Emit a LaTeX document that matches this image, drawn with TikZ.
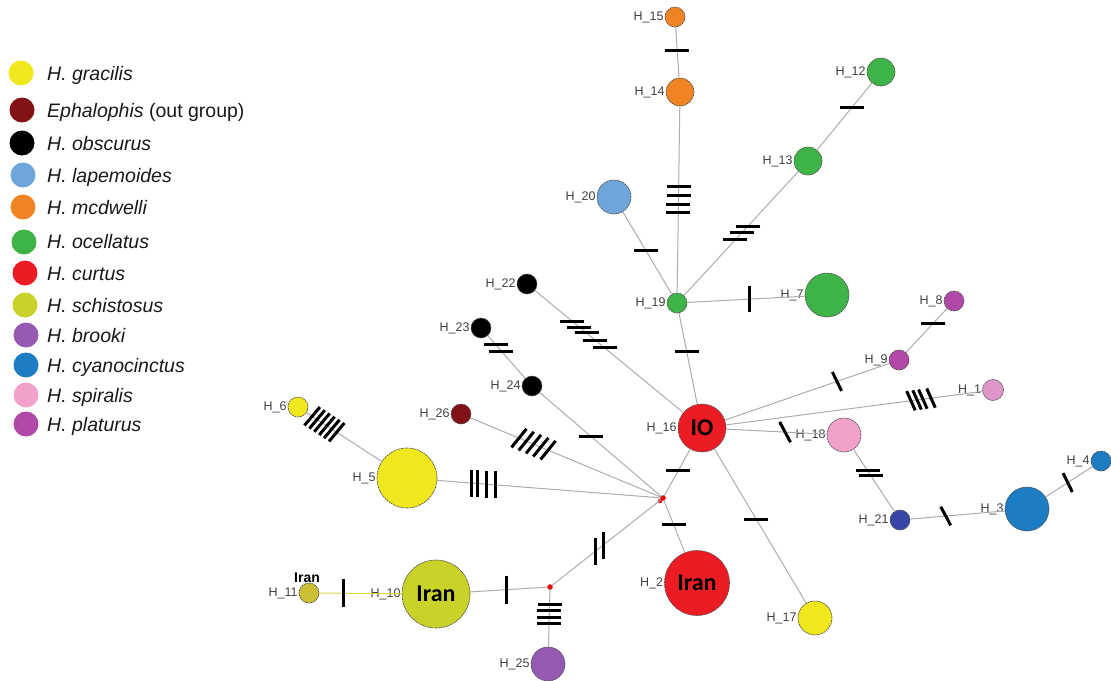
\documentclass[tikz,border=0pt]{standalone}
\usepackage{fontspec}
\setmainfont{Liberation Sans}
\newfontfamily\calib{Carlito}
\usetikzlibrary{calc}
\definecolor{cgrac}{RGB}{240,232,28}
\definecolor{cepha}{RGB}{130,18,22}
\definecolor{cobsc}{RGB}{0,0,0}
\definecolor{clape}{RGB}{110,165,218}
\definecolor{cmcdw}{RGB}{240,132,36}
\definecolor{cocel}{RGB}{62,180,72}
\definecolor{ccurt}{RGB}{236,28,36}
\definecolor{cschi}{RGB}{200,210,40}
\definecolor{colive}{RGB}{205,190,55}
\definecolor{cbroo}{RGB}{150,90,178}
\definecolor{ccyan}{RGB}{28,125,196}
\definecolor{cspir}{RGB}{242,162,202}
\definecolor{cspir2}{RGB}{222,150,200}
\definecolor{cplat}{RGB}{176,72,168}
\definecolor{cdblue}{RGB}{56,70,168}
\definecolor{cedge}{RGB}{172,172,172}
\definecolor{cyedge}{RGB}{215,215,70}
\tikzset{
  hap/.style={circle, draw=black!70, line width=0.6pt, dash pattern=on 2pt off 0.7pt, inner sep=0pt, minimum size=#1},
  hlab/.style={font=\fontsize{12.5}{14}\selectfont, text=black!75, inner sep=1pt},
  big/.style={font=\calib\bfseries\fontsize{24}{24}\selectfont},
  edge/.style={draw=cedge, line width=1pt},
  tick/.style={draw=black, line width=3pt},
  jn/.style={circle, fill=red, draw=red!70!black, line width=0.3pt, inner sep=0pt, minimum size=5pt},
  lgdot/.style={circle, inner sep=0pt, minimum size=25pt},
  lgtxt/.style={anchor=base west, inner sep=0pt, font=\fontsize{19.5}{22}\selectfont, text=black!90}
}
\newcommand\tk[5][12pt]{\draw[tick] ($(#2.center)!#4!(#3.center)+(#5:#1)$) -- ($(#2.center)!#4!(#3.center)-(#5:#1)$);}
\begin{document}
\begin{tikzpicture}[x=1pt,y=-1pt]
\useasboundingbox (0,0) rectangle (1111,680);
% legend
\node[lgdot, fill=cgrac] (l1) at (21,73) {};
\node[lgtxt] (t1) at (47,80) {\itshape H. gracilis};
\node[lgdot, fill=cepha] (l2) at (22,110) {};
\node[lgtxt] (t2) at (47,117) {\itshape Ephalophis\/\upshape\ (out group)};
\node[lgdot, fill=cobsc] (l3) at (22,143) {};
\node[lgtxt] (t3) at (47,150) {\itshape H. obscurus};
\node[lgdot, fill=clape] (l4) at (23,175) {};
\node[lgtxt] (t4) at (47,182) {\itshape H. lapemoides};
\node[lgdot, fill=cmcdw] (l5) at (23,207) {};
\node[lgtxt] (t5) at (47,214) {\itshape H. mcdwelli};
\node[lgdot, fill=cocel] (l6) at (24,242) {};
\node[lgtxt] (t6) at (47,248) {\itshape H. ocellatus};
\node[lgdot, fill=ccurt] (l7) at (25,273) {};
\node[lgtxt] (t7) at (47,280) {\itshape H. curtus};
\node[lgdot, fill=cschi] (l8) at (25,305) {};
\node[lgtxt] (t8) at (47,312) {\itshape H. schistosus};
\node[lgdot, fill=cbroo] (l9) at (26,335) {};
\node[lgtxt] (t9) at (47,342) {\itshape H. brooki};
\node[lgdot, fill=ccyan] (l10) at (26,365) {};
\node[lgtxt] (t10) at (47,372) {\itshape H. cyanocinctus};
\node[lgdot, fill=cspir] (l11) at (26,395) {};
\node[lgtxt] (t11) at (47,402) {\itshape H. spiralis};
\node[lgdot, fill=cplat] (l12) at (26,424) {};
\node[lgtxt] (t12) at (47,431) {\itshape H. platurus};
% haplotypes
\node[hap=20, fill=cmcdw, label={[hlab]left:H\_15}] (H15) at (675,17) {};
\node[hap=28, fill=cmcdw, label={[hlab]left:H\_14}] (H14) at (680,92) {};
\node[hap=28, fill=cocel, label={[hlab]left:H\_12}] (H12) at (881,72) {};
\node[hap=28, fill=cocel, label={[hlab]left:H\_13}] (H13) at (808,161) {};
\node[hap=34, fill=clape, label={[hlab]left:H\_20}] (H20) at (614,197) {};
\node[hap=20, fill=cocel, label={[hlab]left:H\_19}] (H19) at (677,303) {};
\node[hap=44, fill=cocel, label={[hlab]left:H\_7}] (H7) at (827,295) {};
\node[hap=20, fill=cobsc, label={[hlab]left:H\_22}] (H22) at (527,284) {};
\node[hap=20, fill=cobsc, label={[hlab]left:H\_23}] (H23) at (481,328) {};
\node[hap=20, fill=cobsc, label={[hlab]left:H\_24}] (H24) at (532,386) {};
\node[hap=20, fill=cepha, label={[hlab]left:H\_26}] (H26) at (461,414) {};
\node[hap=48, fill=ccurt, big, label={[hlab]left:H\_16}] (H16) at (702,428) {IO};
\node[hap=60, fill=cgrac, label={[hlab]left:H\_5}] (H5) at (407,478) {};
\node[hap=20, fill=cgrac, label={[hlab]left:H\_6}] (H6) at (298,407) {};
\node[hap=20, fill=colive, label={[hlab]left:H\_11}] (H11) at (309,593) {};
\node[hap=68, fill=cschi, big, label={[hlab]left:H\_10}] (H10) at (436,594) {Iran};
\node[hap=34, fill=cbroo, label={[hlab]left:H\_25}] (H25) at (548,664) {};
\node[hap=20, fill=cplat, label={[hlab]left:H\_8}] (H8) at (954,301) {};
\node[hap=20, fill=cplat, label={[hlab]left:H\_9}] (H9) at (899,360) {};
\node[hap=21, fill=cspir2, label={[hlab]left:H\_1}] (H1) at (993,390) {};
\node[hap=34, fill=cspir, label={[hlab]left:H\_18}] (H18) at (844,435) {};
\node[hap=20, fill=ccyan, label={[hlab]left:H\_4}] (H4) at (1101,461) {};
\node[hap=44, fill=ccyan, label={[hlab]left:H\_3}] (H3) at (1027,509) {};
\node[hap=20, fill=cdblue, label={[hlab]left:H\_21}] (H21) at (900,520) {};
\node[hap=65, fill=ccurt, big, label={[hlab]left:H\_2}] (H2) at (697,583) {Iran};
\node[hap=34, fill=cgrac, label={[hlab]left:H\_17}] (H17) at (815,618) {};
\node[font=\bfseries\fontsize{14}{14}\selectfont, inner sep=0pt] (iransm) at (307,578) {Iran};
% median vectors
\node[jn] (J1) at (663,498) {};
\node[jn, minimum size=4pt] (J1b) at (660,501) {};
\node[jn, minimum size=5pt] (J2) at (550,587) {};
% edges
\path[edge] (H15) -- (H14);
\path[edge] (H14) -- (H19);
\path[edge] (H12) -- (H13);
\path[edge] (H13) -- (H19);
\path[edge] (H20) -- (H19);
\path[edge] (H19) -- (H7);
\path[edge] (H19) -- (H16);
\path[edge] (H22) -- (H16);
\path[edge] (H23) -- (H24);
\path[edge] (H24) -- (J1);
\path[edge] (H26) -- (J1);
\path[edge] (H5) -- (J1);
\path[edge] (H6) -- (H5);
\path[edge] (H16) -- (J1);
\path[edge] (J1) -- (H2);
\path[edge] (J1) -- (J2);
\path[edge] (H10) -- (J2);
\path[edge, draw=cyedge] (H11) -- (H10);
\path[edge] (J2) -- (H25);
\path[edge] (H16) -- (H17);
\path[edge] (H16) -- (H9);
\path[edge] (H9) -- (H8);
\path[edge] (H16) -- (H1);
\path[edge] (H16) -- (H18);
\path[edge] (H18) -- (H21);
\path[edge] (H21) -- (H3);
\path[edge] (H3) -- (H4);
% mutation ticks
\tk{H15}{H14}{0.44}{0}
\tk{H14}{H19}{0.45}{0}\tk{H14}{H19}{0.49}{0}\tk{H14}{H19}{0.531}{0}\tk{H14}{H19}{0.573}{0}
\tk{H12}{H13}{0.40}{0}
\tk{H13}{H19}{0.458}{0}\tk{H13}{H19}{0.507}{0}\tk{H13}{H19}{0.556}{0}
\tk{H20}{H19}{0.5}{0}
\tk[13pt]{H19}{H7}{0.48}{90}
\tk{H19}{H16}{0.39}{0}
\tk{H22}{H16}{0.257}{0}\tk{H22}{H16}{0.299}{0}\tk{H22}{H16}{0.34}{0}\tk{H22}{H16}{0.389}{0}\tk{H22}{H16}{0.444}{0}
\tk{H23}{H24}{0.29}{0}\tk{H23}{H24}{0.40}{0}
\tk{H24}{J1}{0.45}{0}
\tk{H26}{J1}{0.287}{51}\tk{H26}{J1}{0.323}{51}\tk{H26}{J1}{0.359}{51}\tk{H26}{J1}{0.395}{51}\tk{H26}{J1}{0.431}{51}
\tk[13.5pt]{H5}{J1}{0.25}{90}\tk[13.5pt]{H5}{J1}{0.277}{90}\tk[13.5pt]{H5}{J1}{0.309}{90}\tk[13.5pt]{H5}{J1}{0.344}{90}
\tk{H6}{H5}{0.13}{50}\tk{H6}{H5}{0.175}{50}\tk{H6}{H5}{0.22}{50}\tk{H6}{H5}{0.265}{50}\tk{H6}{H5}{0.31}{50}\tk{H6}{H5}{0.355}{50}
\tk{H16}{J1}{0.61}{0}
\tk{J1}{H2}{0.31}{0}
\tk[13.5pt]{J1}{J2}{0.53}{90}\tk[13.5pt]{J1}{J2}{0.60}{90}
\tk[14pt]{H10}{J2}{0.62}{90}
\tk[14pt]{H11}{H10}{0.27}{90}
\tk{J2}{H25}{0.23}{0}\tk{J2}{H25}{0.31}{0}\tk{J2}{H25}{0.40}{0}\tk{J2}{H25}{0.48}{0}
\tk{H16}{H17}{0.48}{0}
\tk[10.5pt]{H16}{H9}{0.685}{116}
\tk{H9}{H8}{0.62}{0}
\tk[10.5pt]{H16}{H1}{0.718}{114}\tk[10.5pt]{H16}{H1}{0.739}{114}\tk[10.5pt]{H16}{H1}{0.759}{114}\tk[10.5pt]{H16}{H1}{0.787}{114}
\tk[11.5pt]{H16}{H18}{0.585}{118}
\tk{H18}{H21}{0.42}{0}\tk{H18}{H21}{0.48}{0}
\tk[10.5pt]{H21}{H3}{0.36}{118}
\tk[10.5pt]{H3}{H4}{0.55}{116}
\end{tikzpicture}
\end{document}
